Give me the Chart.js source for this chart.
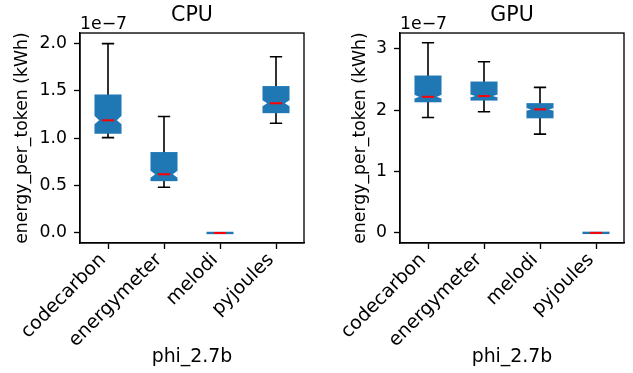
<!DOCTYPE html>
<html>
<head>
<meta charset="utf-8">
<script src="https://cdn.jsdelivr.net/npm/chart.js@4.4.1/dist/chart.umd.min.js"></script>
<style>
  html, body { margin: 0; padding: 0; background: #fff; }
  #wrap { position: relative; width: 633px; height: 373px; }
  #wrap canvas { position: absolute; top: 0; }
</style>
</head>
<body>
<div id="wrap">
  <canvas id="cpuChart" width="316" height="373" style="left:0"></canvas>
  <canvas id="gpuChart" width="317" height="373" style="left:316px"></canvas>
</div>
<script>
// values in units of 1e-7 kWh
const tools = ["codecarbon", "energymeter", "melodi", "pyjoules"];

const cpuLow     = [1.007, 0.483, 0.0, 1.159];
const cpuQ1      = [1.06, 0.56, 0.0, 1.278];
const cpuMed     = [1.19, 0.62, 0.0, 1.37];
const cpuQ3      = [1.45, 0.842, 0.0, 1.539];
const cpuHigh    = [2.0, 1.23, 0.0, 1.862];
const cpuNotchLo = [1.145, 0.58, 0.0, 1.335];
const cpuNotchHi = [1.24, 0.66, 0.0, 1.405];
const cpuTicks   = [0, 0.5, 1.0, 1.5, 2.0];

const gpuLow     = [1.88, 1.973, 1.609, 0.0];
const gpuQ1      = [2.147, 2.175, 1.886, 0.0];
const gpuMed     = [2.217, 2.229, 2.012, 0.0];
const gpuQ3      = [2.544, 2.446, 2.094, 0.0];
const gpuHigh    = [3.098, 2.788, 2.37, 0.0];
const gpuNotchLo = [2.185, 2.205, 1.99, 0.0];
const gpuNotchHi = [2.25, 2.255, 2.035, 0.0];
const gpuTicks   = [0, 1, 2, 3];

Chart.defaults.font.family = "'DejaVu Sans', sans-serif";
Chart.defaults.color = "#000";

const BLUE = "#1f77b4";
const tickFont = { size: 17.3 };
const xFont = { size: 18.9 };

// whiskers, caps, notches, medians and the frame around the axes
function boxParts(low, med, high, nLo, nHi) {
  return {
    id: "boxParts",
    beforeDatasetsDraw(chart) {
      const ctx = chart.ctx, y = chart.scales.y;
      const bars = chart.getDatasetMeta(0).data;
      ctx.save();
      ctx.strokeStyle = "#000";
      ctx.lineWidth = 1.6;
      bars.forEach((bar, i) => {
        const cw = bar.width / 4;
        ctx.beginPath();
        ctx.moveTo(bar.x, y.getPixelForValue(low[i]));
        ctx.lineTo(bar.x, y.getPixelForValue(high[i]));
        ctx.moveTo(bar.x - cw, y.getPixelForValue(low[i]));
        ctx.lineTo(bar.x + cw, y.getPixelForValue(low[i]));
        ctx.moveTo(bar.x - cw, y.getPixelForValue(high[i]));
        ctx.lineTo(bar.x + cw, y.getPixelForValue(high[i]));
        ctx.stroke();
      });
      ctx.restore();
    },
    afterDatasetsDraw(chart) {
      const ctx = chart.ctx, y = chart.scales.y, a = chart.chartArea;
      const bars = chart.getDatasetMeta(0).data;
      ctx.save();
      bars.forEach((bar, i) => {
        const hw = bar.width / 2 + 1.5;
        const tip = hw - 5;
        const ym = y.getPixelForValue(med[i]);
        const yl = y.getPixelForValue(nLo[i]);
        const yh = y.getPixelForValue(nHi[i]);
        if (yl - yh > 1) {
          ctx.fillStyle = "#fff";
          ctx.beginPath();
          ctx.moveTo(bar.x - hw, yl);
          ctx.lineTo(bar.x - tip, ym);
          ctx.lineTo(bar.x - hw, yh);
          ctx.closePath();
          ctx.moveTo(bar.x + hw, yl);
          ctx.lineTo(bar.x + tip, ym);
          ctx.lineTo(bar.x + hw, yh);
          ctx.closePath();
          ctx.fill();
        }
        ctx.strokeStyle = "red";
        ctx.lineWidth = 2;
        ctx.beginPath();
        ctx.moveTo(bar.x - bar.width / 4, ym);
        ctx.lineTo(bar.x + bar.width / 4, ym);
        ctx.stroke();
      });
      ctx.strokeStyle = "#000";
      ctx.lineWidth = 1.35;
      ctx.strokeRect(a.left, a.top, a.right - a.left, a.bottom - a.top);
      ctx.fillStyle = "#000";
      ctx.font = "17.3px 'DejaVu Sans'";
      ctx.textBaseline = "alphabetic";
      ctx.fillText("1e\u22127", a.left, 29);
      ctx.restore();
    }
  };
}

function makeChart(id, title, q1, q3, low, med, high, nLo, nHi, tickVals, fmt, yMin, yMax, yWidth, labelPad, padRight) {
  new Chart(document.getElementById(id), {
    type: "bar",
    data: {
      labels: tools,
      datasets: [{
        data: q1.map((v, i) => [v, q3[i]]),
        backgroundColor: BLUE,
        borderWidth: 0,
        inflateAmount: 1.2,
        barPercentage: 0.44,
        categoryPercentage: 1.0
      }]
    },
    options: {
      responsive: false,
      animation: false,
      devicePixelRatio: 1,
      layout: { padding: { left: 0, right: padRight, top: 0, bottom: 0 } },
      plugins: {
        legend: { display: false },
        tooltip: { enabled: false },
        title: {
          display: true,
          text: title,
          fullSize: false,
          color: "#000",
          font: { size: 20.6, weight: "normal" },
          padding: { top: 3, bottom: 5.3 }
        }
      },
      scales: {
        x: {
          afterFit: s => { s.height = 130; },
          grid: { offset: false, drawOnChartArea: false, tickLength: 6, tickWidth: 1.35, tickColor: "#000" },
          border: { color: "#000", width: 1.35 },
          ticks: { font: xFont, color: "#000", autoSkip: false, minRotation: 45, maxRotation: 45, padding: 0, labelOffset: -5 },
          title: { display: true, text: "phi_2.7b", color: "#000", font: xFont, padding: { top: 0, bottom: 4.6 } }
        },
        y: {
          min: yMin,
          max: yMax,
          afterFit: s => { s.width = yWidth; },
          afterBuildTicks: s => { s.ticks = tickVals.map(v => ({ value: v })); },
          grid: { drawOnChartArea: false, tickLength: 6, tickWidth: 1.35, tickColor: "#000" },
          border: { color: "#000", width: 1.35 },
          ticks: { font: tickFont, color: "#000", padding: 7, callback: fmt },
          title: { display: true, text: "energy_per_token (kWh)", color: "#000", font: tickFont, padding: { top: labelPad, bottom: 0 } }
        }
      }
    },
    plugins: [boxParts(low, med, high, nLo, nHi)]
  });
}

makeChart("cpuChart", "CPU", cpuQ1, cpuQ3, cpuLow, cpuMed, cpuHigh, cpuNotchLo, cpuNotchHi,
  cpuTicks, v => v.toFixed(1), -0.106, 2.112, 80, 12.6, 12);
makeChart("gpuChart", "GPU", gpuQ1, gpuQ3, gpuLow, gpuMed, gpuHigh, gpuNotchLo, gpuNotchHi,
  gpuTicks, v => String(v), -0.165, 3.256, 84, 34.6, 9);
</script>
</body>
</html>
